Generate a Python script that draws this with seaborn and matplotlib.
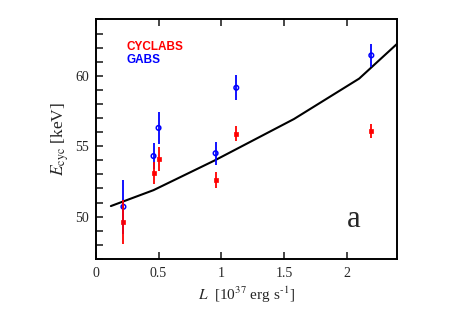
import numpy as np
import pandas as pd
import seaborn as sns
import matplotlib.pyplot as plt

# luminosity of the observations [1e37 erg/s]
lum = [0.22, 0.46, 0.50, 0.955, 1.12, 2.197]

# cyclotron energies, CYCLABS fit
e_cyclabs = [49.6, 53.1, 54.1, 52.6, 55.9, 56.1]
err_cyclabs = [1.55, 0.8, 0.85, 0.6, 0.55, 0.5]

# cyclotron energies, GABS fit
e_gabs = [50.7, 54.3, 56.3, 54.5, 59.15, 61.45]
err_gabs = [1.9, 0.95, 1.15, 0.8, 0.9, 0.8]

# model curve
model_l = [0.12, 0.46, 0.95, 1.58, 2.10, 2.40]
model_e = [50.75, 51.88, 54.0, 56.93, 59.8, 62.25]

sns.set_style("white")
plt.rcParams['font.family'] = ['Liberation Serif', 'DejaVu Serif']
plt.rcParams['mathtext.fontset'] = 'stix'

fig = plt.figure(figsize=(4.63, 3.24), dpi=100)
ax = fig.add_axes([0.207, 0.201, 0.650, 0.739])

df_model = pd.DataFrame({'L': model_l, 'E': model_e})
sns.lineplot(data=df_model, x='L', y='E', color='black', lw=1.5, ax=ax)

ax.errorbar(lum, e_gabs, yerr=err_gabs, fmt='none', ecolor='blue', elinewidth=1.3, capsize=0)
ax.errorbar(lum, e_cyclabs, yerr=err_cyclabs, fmt='none', ecolor='red', elinewidth=1.3, capsize=0)
sns.scatterplot(x=lum, y=e_gabs, marker='o', s=11, facecolor='none', edgecolor='blue',
                linewidth=1.1, ax=ax)
sns.scatterplot(x=lum, y=e_cyclabs, marker='s', s=9, color='red', edgecolor='red',
                linewidth=0.5, ax=ax)

ax.set_xlim(0, 2.4)
ax.set_ylim(47, 64)
ax.set_xticks([0, 0.5, 1, 1.5, 2])
ax.set_xticklabels(['0', '0.5', '1', '1.5', '2'])
ax.set_yticks([50, 55, 60])
ax.set_yticks(np.arange(47, 65, 1), minor=True)

ax.tick_params(axis='x', which='major', direction='in', top=True, bottom=True,
               length=5, width=1.2, labelsize=10, pad=6)
ax.tick_params(axis='y', which='both', direction='in', left=True, right=False,
               length=5, width=1.2, labelsize=10, pad=5)
for sp in ax.spines.values():
    sp.set_linewidth(1.4)
    sp.set_color('black')

ax.set_xlabel('$L$  [10$^{37}$ erg s$^{\\mathrm{\u2010}1}$]', fontsize=11, labelpad=3)
ax.set_ylabel(r'$E_{\rm cyc}$ [keV]', fontsize=12.5, labelpad=3)

ax.text(0.103, 0.874, 'CYCLABS', color='red', fontsize=8.5, fontweight='bold',
        family=['Liberation Sans', 'DejaVu Sans'], transform=ax.transAxes)
ax.text(0.103, 0.816, 'GABS', color='blue', fontsize=8.5, fontweight='bold',
        family=['Liberation Sans', 'DejaVu Sans'], transform=ax.transAxes)
ax.text(0.835, 0.134, 'a', fontsize=22, transform=ax.transAxes)

fig.savefig('out.png', dpi=100)
